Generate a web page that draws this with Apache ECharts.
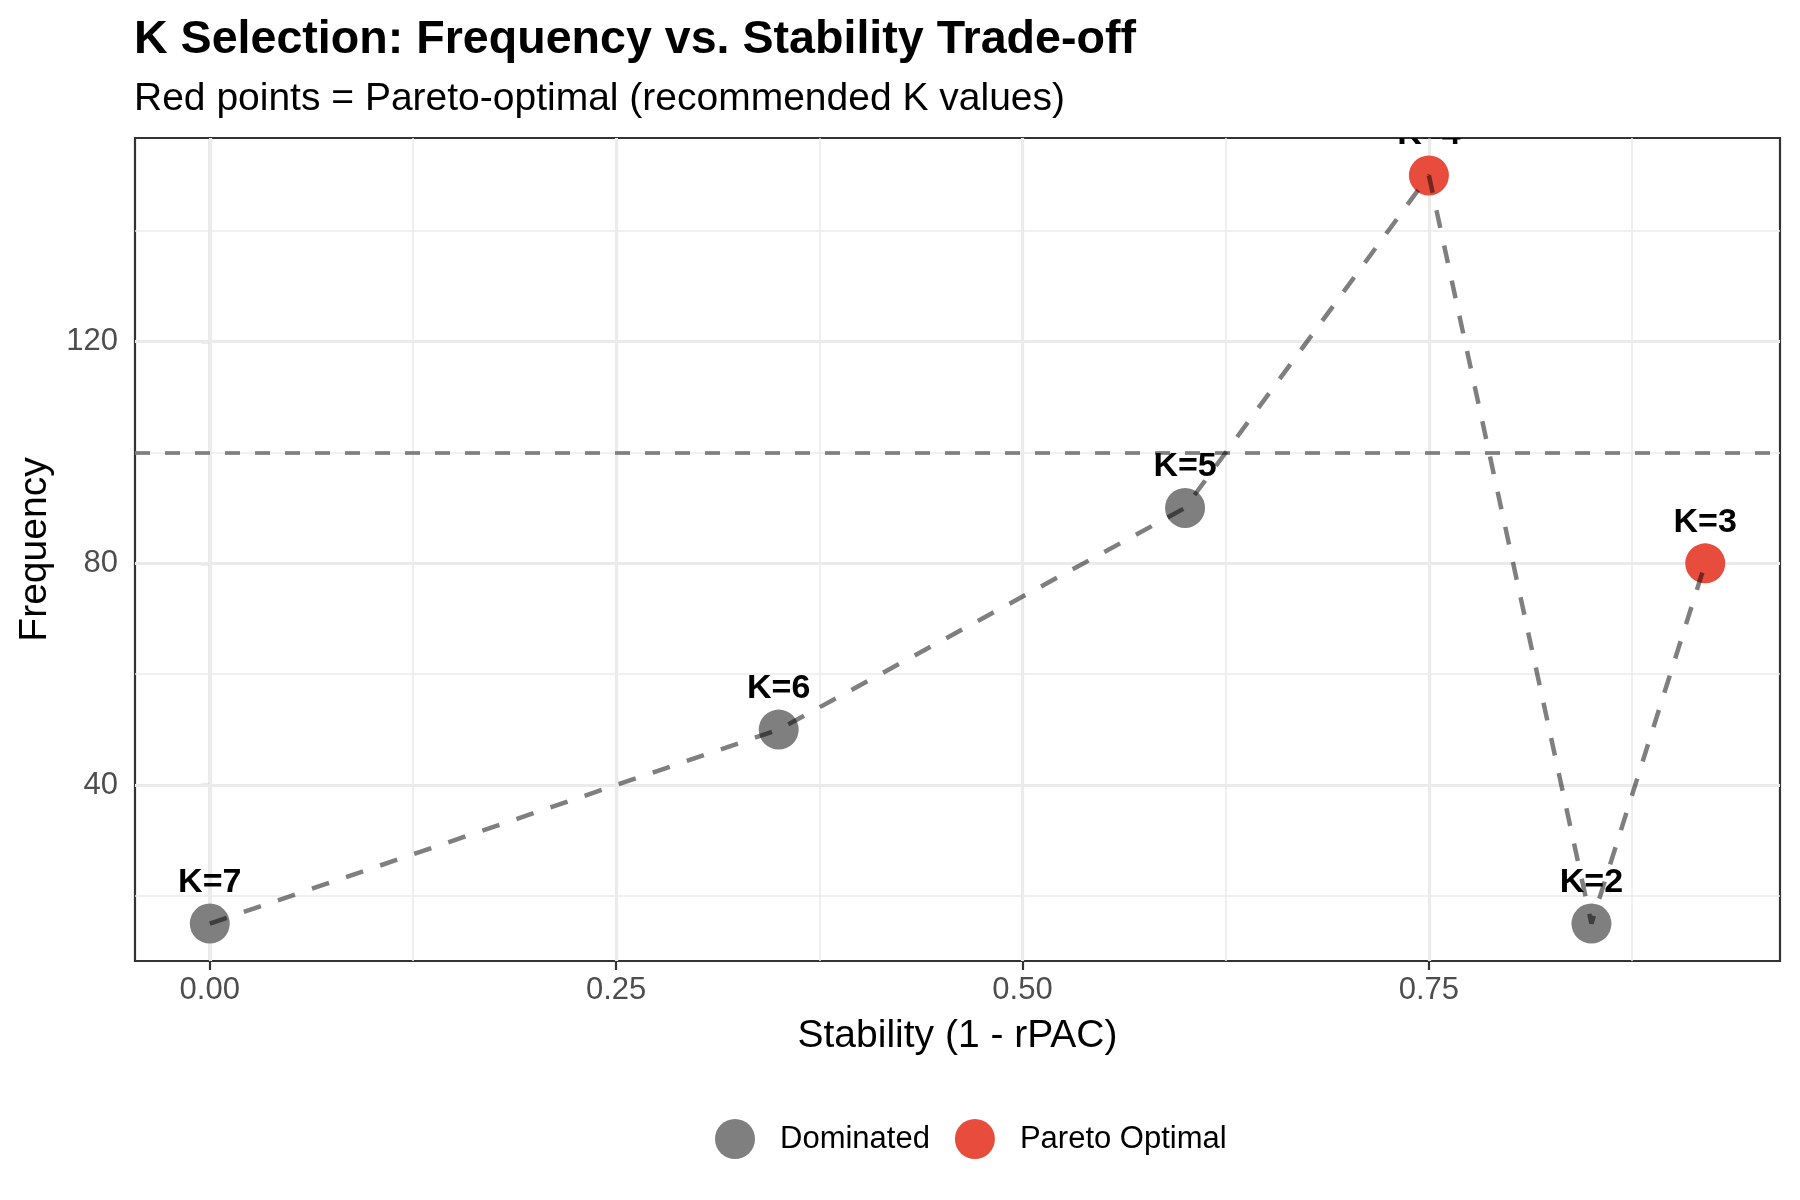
<!DOCTYPE html>
<html>
<head>
<meta charset="utf-8">
<script src="https://cdn.jsdelivr.net/npm/echarts@6/dist/echarts.min.js"></script>
<style>
html,body{margin:0;padding:0;background:#fff;}
#chart{width:1800px;height:1200px;}
</style>
</head>
<body>
<div id="chart"></div>
<script>
// ---- data ----
const stability = [0.00, 0.35, 0.60, 0.75, 0.85, 0.92];
const frequency = [15, 50, 90, 150, 15, 80];
const kLabels = ['K=7', 'K=6', 'K=5', 'K=4', 'K=2', 'K=3'];
const status = ['Dominated', 'Dominated', 'Dominated', 'Pareto Optimal', 'Dominated', 'Pareto Optimal'];
const thresholdFrequency = 100;
const xMajorTicks = [0, 0.25, 0.5, 0.75];
const xMinorTicks = [0.125, 0.375, 0.625, 0.875];
const yMajorTicks = [40, 80, 120];
const yMinorTicks = [20, 60, 100, 140];
const statusNames = ['Dominated', 'Pareto Optimal'];
const statusColors = ['#7F7F7F', '#E74C3C'];

// ---- scale limits (5% expansion like ggplot) ----
function expand(arr) {
  const lo = Math.min(...arr), hi = Math.max(...arr), d = hi - lo;
  return [lo - 0.05 * d, hi + 0.05 * d];
}
const [xMin, xMax] = expand(stability);
const [yMin, yMax] = expand(frequency);

const FONT = 'Liberation Sans, Arial, Helvetica, sans-serif';

const points = stability.map((x, i) => [x, frequency[i]]);
const order = stability.map((x, i) => i).sort((a, b) => stability[a] - stability[b]);
const linePts = order.map(i => points[i]);

const gridLines = [];
xMinorTicks.forEach(v => gridLines.push({ xAxis: v, lineStyle: { color: '#EBEBEB', width: 1.6, type: 'solid' } }));
yMinorTicks.forEach(v => gridLines.push({ yAxis: v, lineStyle: { color: '#EBEBEB', width: 1.6, type: 'solid' } }));
xMajorTicks.forEach(v => gridLines.push({ xAxis: v, lineStyle: { color: '#EBEBEB', width: 3.2, type: 'solid' } }));
yMajorTicks.forEach(v => gridLines.push({ yAxis: v, lineStyle: { color: '#EBEBEB', width: 3.2, type: 'solid' } }));

const scatterSeries = statusNames.map((name, s) => ({
  name: name,
  type: 'scatter',
  z: 3,
  symbol: 'circle',
  symbolSize: 40,
  itemStyle: { color: statusColors[s], opacity: 1 },
  data: points.filter((p, i) => status[i] === name),
  animation: false,
  silent: true
}));

const chart = echarts.init(document.getElementById('chart'), null, { renderer: 'canvas' });
chart.setOption({
  backgroundColor: '#ffffff',
  animation: false,
  title: [
    { text: 'K Selection: Frequency vs. Stability Trade-off', left: 134, top: 17, padding: 0,
      textStyle: { fontFamily: FONT, fontSize: 46.6, fontWeight: 'bold', color: '#000' } },
    { text: 'Red points = Pareto-optimal (recommended K values)', left: 134, top: 80, padding: 0,
      textStyle: { fontFamily: FONT, fontSize: 39, fontWeight: 'normal', color: '#000' } }
  ],
  legend: {
    data: statusNames,
    left: 715, top: 1119,
    padding: 0,
    icon: 'circle',
    itemWidth: 40, itemHeight: 40, itemGap: 25,
    selectedMode: false,
    textStyle: { fontFamily: FONT, fontSize: 31, color: '#000', padding: [0, 0, 0, 20] }
  },
  grid: {
    left: 135, top: 138, right: 20, bottom: 239,
    show: true, borderColor: '#333333', borderWidth: 2.2, backgroundColor: 'transparent',
    containLabel: false
  },
  xAxis: {
    type: 'value', min: xMin, max: xMax,
    name: 'Stability (1 - rPAC)', nameLocation: 'middle', nameGap: 56,
    nameTextStyle: { fontFamily: FONT, fontSize: 39, color: '#000' },
    axisLine: { show: true, lineStyle: { color: '#333333', width: 2.2 } },
    axisTick: { show: true, length: 9, customValues: xMajorTicks, lineStyle: { color: '#333333', width: 2.2 } },
    axisLabel: { customValues: xMajorTicks, margin: 14, fontFamily: FONT, fontSize: 31, color: '#4D4D4D',
      formatter: v => v.toFixed(2) },
    splitLine: { show: false }, minorSplitLine: { show: false }
  },
  yAxis: {
    type: 'value', min: yMin, max: yMax,
    name: 'Frequency', nameLocation: 'middle', nameGap: 80,
    nameTextStyle: { fontFamily: FONT, fontSize: 39, color: '#000' },
    axisLine: { show: true, lineStyle: { color: '#333333', width: 2.2 } },
    axisTick: { show: true, length: 9, customValues: yMajorTicks, lineStyle: { color: '#333333', width: 2.2 } },
    axisLabel: { customValues: yMajorTicks, margin: 17, fontFamily: FONT, fontSize: 31, color: '#4D4D4D',
      formatter: v => String(v) },
    splitLine: { show: false }, minorSplitLine: { show: false }
  },
  series: [
    {
      name: 'grid', type: 'line', z: 1, data: linePts, symbol: 'none', silent: true,
      lineStyle: { opacity: 0 },
      markLine: { z: 1, precision: 6, silent: true, symbol: ['none', 'none'], label: { show: false }, animation: false, data: gridLines }
    },
    {
      name: 'threshold', type: 'line', z: 2, data: linePts, symbol: 'none', silent: true,
      lineStyle: { opacity: 0 },
      markLine: { z: 2, precision: 6, silent: true, symbol: ['none', 'none'], label: { show: false }, animation: false,
        data: [{ yAxis: thresholdFrequency, lineStyle: { color: '#7F7F7F', width: 3.7, type: [15, 15] } }] }
    },
    ...scatterSeries,
    {
      name: 'labels', type: 'custom', z: 4, clip: true, silent: true,
      data: points,
      renderItem: function (params, api) {
        const c = api.coord([api.value(0), api.value(1)]);
        return {
          type: 'text', x: c[0], y: c[1] - 41,
          style: { text: kLabels[params.dataIndex], fontFamily: FONT, fontSize: 34, fontWeight: 'bold',
            fill: '#000', align: 'center', verticalAlign: 'middle' }
        };
      },
      animation: false
    },
    {
      name: 'path', type: 'line', z: 5, data: linePts, symbol: 'none', showSymbol: false, silent: true,
      lineStyle: { color: 'rgba(0,0,0,0.5)', width: 4.5, type: [18, 18], cap: 'butt' },
      animation: false
    }
  ]
});
</script>
</body>
</html>
